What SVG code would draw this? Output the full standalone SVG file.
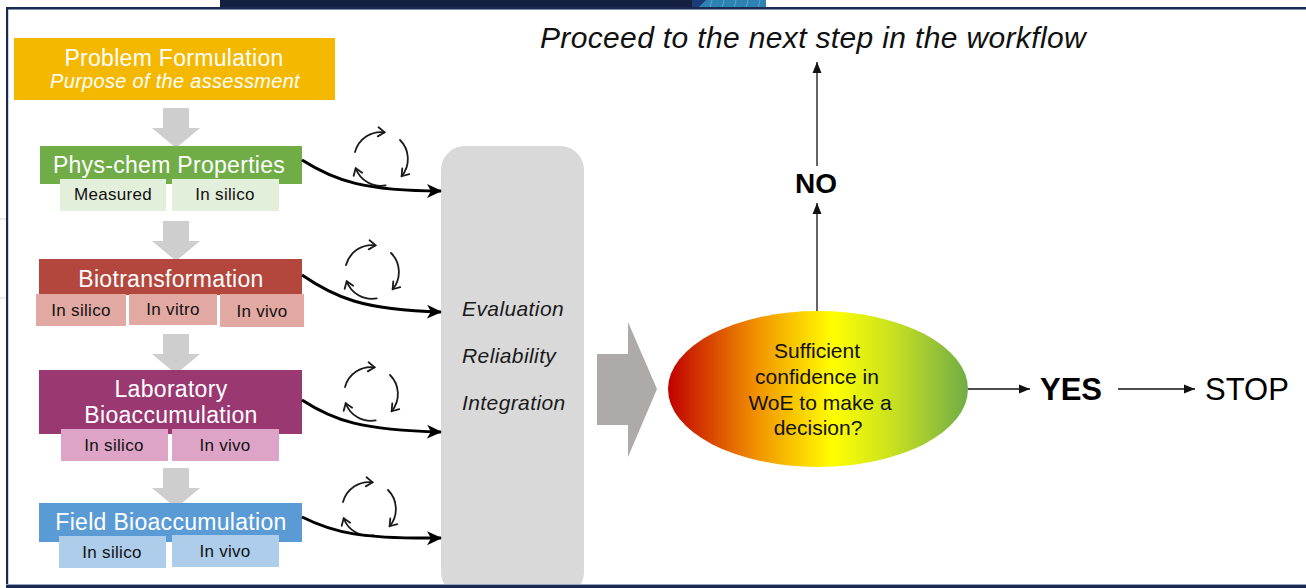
<svg xmlns="http://www.w3.org/2000/svg" xmlns:xlink="http://www.w3.org/1999/xlink" width="1306" height="588" viewBox="0 0 1306 588">
  <style>
    text { font-family: "Liberation Sans", Arial, sans-serif; }
    .head { fill: #ffffff; font-size: 23px; letter-spacing: 0.3px; text-anchor: middle; }
    .sub { fill: #111111; font-size: 17px; letter-spacing: 0.3px; text-anchor: middle; }
    .step { fill: #cfcece; }
    .flow { fill: none; stroke: #000000; stroke-width: 3; }
    .cyc { fill: none; stroke: #1a1a1a; stroke-width: 1.6; stroke-linecap: round; stroke-linejoin: round; }
    .thin { fill: none; stroke: #111111; stroke-width: 1.3; }
    .eval { fill: #1a1a1a; font-size: 21px; letter-spacing: 0.4px; font-style: italic; }
    .q { fill: #111111; font-size: 21px; text-anchor: middle; }
  </style>
  <defs>
    <marker id="bigHead" markerUnits="userSpaceOnUse" markerWidth="16" markerHeight="16" refX="14" refY="8" orient="auto">
      <path d="M0,1 L15,8 L0,15 L4,8 z" fill="#000000"/>
    </marker>
    <marker id="thinHead" markerUnits="userSpaceOnUse" markerWidth="12" markerHeight="10" refX="11" refY="5" orient="auto">
      <path d="M0,0.5 L11,5 L0,9.5 z" fill="#111111"/>
    </marker>
    <linearGradient id="woe" x1="0" y1="0" x2="1" y2="0">
      <stop offset="0" stop-color="#c00000"/>
      <stop offset="0.3" stop-color="#f29400"/>
      <stop offset="0.55" stop-color="#ffff00"/>
      <stop offset="0.75" stop-color="#c8e020"/>
      <stop offset="1" stop-color="#70ad47"/>
    </linearGradient>
    <!-- three clockwise arcs forming a small review cycle -->
    <symbol id="cycle" overflow="visible">
      <path class="cyc" d="M-23.2,-6.2 A24,24 0 0 1 3.3,-23.8"/>
      <path class="cyc" d="M-2.9,-20.2 L3.3,-23.8 L-2.2,-28.3"/>
      <path class="cyc" d="M16.97,-16.97 A24,24 0 0 1 18.4,15.4"/>
      <path class="cyc" d="M19.0,8.4 L18.4,15.4 L25.2,13.6"/>
      <path class="cyc" d="M4.17,23.6 A24,24 0 0 1 -22.6,8.2"/>
      <path class="cyc" d="M-16.8,12.2 L-22.6,8.2 L-24.4,15.0"/>
    </symbol>
    <path id="down" d="M163,0 h26 v20 h11 l-24,20 l-24,-20 h11 z"/>
  </defs>

  <rect width="1306" height="588" fill="#ffffff"/>

  <!-- slide banner strip and frame -->
  <g id="frame">
    <rect x="220" y="0" width="475" height="8" fill="#14203f"/>
    <rect x="692" y="0" width="74" height="8" fill="#2d84b3"/>
    <path d="M692,0 h14 l-8,8 h-6 z" fill="#1d3b78"/>
    <g stroke="#5aa5cc" stroke-width="1">
      <line x1="712" y1="0" x2="710" y2="8"/>
      <line x1="724" y1="0" x2="722" y2="8"/>
      <line x1="736" y1="0" x2="734" y2="8"/>
      <line x1="748" y1="0" x2="746" y2="8"/>
      <line x1="760" y1="0" x2="758" y2="8"/>
    </g>
    <line x1="0" y1="219" x2="6" y2="219" stroke="#d6d6d6" stroke-width="1"/>
    <line x1="0" y1="298" x2="6" y2="298" stroke="#d6d6d6" stroke-width="1"/>
    <rect x="6" y="7" width="1300" height="2" fill="#1a2a50"/>
    <rect x="8" y="9" width="1298" height="1" fill="#7d8fae"/>
    <rect x="6" y="7" width="2.2" height="581" fill="#1a2a50"/>
  </g>

  <!-- step-to-step block arrows -->
  <g id="steps">
    <use href="#down" class="step" transform="translate(0,108)"/>
    <use href="#down" class="step" transform="translate(0,221)"/>
    <use href="#down" class="step" transform="translate(0,334)"/>
    <use href="#down" class="step" transform="translate(0,468)"/>
  </g>

  <g id="problem">
    <rect x="14" y="38" width="321" height="62" fill="#f5b800"/>
    <text class="head" x="174" y="66" font-size="22">Problem Formulation</text>
    <text x="175" y="88" fill="#ffffff" font-size="20" letter-spacing="0.3" font-style="italic" text-anchor="middle">Purpose of the assessment</text>
  </g>

  <g id="physchem">
    <rect x="40" y="146" width="262" height="38" fill="#70ad47"/>
    <text class="head" x="169" y="173">Phys-chem Properties</text>
    <rect x="60" y="179" width="106" height="32" fill="#e2efda"/>
    <rect x="172" y="179" width="107" height="32" fill="#e2efda"/>
    <text class="sub" x="113" y="200">Measured</text>
    <text class="sub" x="225" y="200">In silico</text>
  </g>

  <g id="biotransformation">
    <rect x="39" y="259" width="263" height="36" fill="#b4473d"/>
    <text class="head" x="171" y="287">Biotransformation</text>
    <rect x="36" y="294" width="90" height="32" fill="#e2a9a3"/>
    <rect x="129" y="294" width="88" height="31" fill="#e2a9a3"/>
    <rect x="220" y="294" width="84" height="33" fill="#e2a9a3"/>
    <text class="sub" x="81" y="316">In silico</text>
    <text class="sub" x="173" y="315">In vitro</text>
    <text class="sub" x="262" y="317">In vivo</text>
  </g>

  <g id="laboratory">
    <rect x="39" y="370" width="263" height="64" fill="#9a3872"/>
    <text class="head" x="171" y="397">Laboratory</text>
    <text class="head" x="171" y="423">Bioaccumulation</text>
    <rect x="61" y="429" width="107" height="32" fill="#dea4c7"/>
    <rect x="172" y="429" width="107" height="32" fill="#dea4c7"/>
    <text class="sub" x="114" y="451">In silico</text>
    <text class="sub" x="225" y="451">In vivo</text>
  </g>

  <g id="field">
    <rect x="39" y="503" width="263" height="39" fill="#5b9bd5"/>
    <text class="head" x="171" y="530">Field Bioaccumulation</text>
    <rect x="59" y="536" width="107" height="32" fill="#adcdea"/>
    <rect x="172" y="535" width="107" height="32" fill="#adcdea"/>
    <text class="sub" x="112" y="558">In silico</text>
    <text class="sub" x="225" y="557">In vivo</text>
  </g>

  <g id="review-cycles">
    <use href="#cycle" transform="translate(381,159) scale(1.12)"/>
    <use href="#cycle" transform="translate(372,272) scale(1.12)"/>
    <use href="#cycle" transform="translate(371,394) scale(1.12)"/>
    <use href="#cycle" transform="translate(369,509) scale(1.12)"/>
  </g>

  <g id="evaluation">
    <rect x="441" y="146" width="143" height="450" rx="24" ry="24" fill="#d9d9d9"/>
    <text class="eval" x="462" y="316">Evaluation</text>
    <text class="eval" x="462" y="363">Reliability</text>
    <text class="eval" x="462" y="410">Integration</text>
  </g>

  <g id="to-decision">
    <path d="M597,354 h31 v-32 l29,67 l-29,68 v-32 h-31 z" fill="#aeaaaa"/>
  </g>

  <g id="decision">
    <ellipse cx="818" cy="389" rx="150" ry="78" fill="url(#woe)"/>
    <text class="q" x="817" y="358">Sufficient</text>
    <text class="q" x="817" y="384">confidence in</text>
    <text class="q" x="820" y="410">WoE to make a</text>
    <text class="q" x="818" y="435">decision?</text>
  </g>

  <g id="outcomes">
    <text x="540" y="48" font-size="30" letter-spacing="0.35" font-style="italic" fill="#111111">Proceed to the next step in the workflow</text>
    <text x="816" y="193" font-size="28" font-weight="bold" text-anchor="middle" fill="#000000">NO</text>
    <text x="1040" y="400" font-size="31" font-weight="bold" fill="#000000">YES</text>
    <text x="1205" y="400" font-size="31" fill="#000000">STOP</text>
  </g>

  <g id="connectors">
    <path class="flow" marker-end="url(#bigHead)" d="M302,160 C335,181 365,191 441,191"/>
    <path class="flow" marker-end="url(#bigHead)" d="M302,275 C334,297 362,310 441,312"/>
    <path class="flow" marker-end="url(#bigHead)" d="M302,400 C334,421 362,430 441,432"/>
    <path class="flow" marker-end="url(#bigHead)" d="M302,517 C334,533 362,539 441,538"/>
    <path class="thin" marker-end="url(#thinHead)" d="M817,311 V203"/>
    <path class="thin" marker-end="url(#thinHead)" d="M817,166 V62"/>
    <path class="thin" marker-end="url(#thinHead)" d="M968,389 H1030"/>
    <path class="thin" marker-end="url(#thinHead)" d="M1118,389 H1195"/>
  </g>

  <!-- bottom frame edge drawn last so it sits over the panel -->
  <rect x="6" y="584" width="1300" height="1" fill="#9aa8bf"/>
  <rect x="6" y="585" width="1300" height="3" fill="#1a2a50"/>
</svg>
